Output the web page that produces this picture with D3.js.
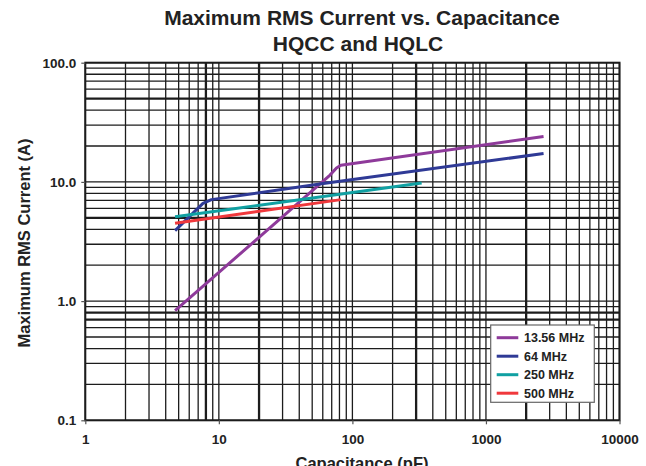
<!DOCTYPE html>
<html><head><meta charset="utf-8">
<script src="https://cdn.jsdelivr.net/npm/d3@7"></script>
<style>
html,body{margin:0;padding:0;background:#fff;}
svg{display:block;font-family:"Liberation Sans",Arial,Helvetica,sans-serif;}
</style></head>
<body><svg id="c" width="646" height="466"></svg>
<script>
// ---- data ----
const titleLines = ["Maximum RMS Current vs. Capacitance", "HQCC and HQLC"];
const xTitle = "Capacitance (pF)";
const yTitle = "Maximum RMS Current (A)";
const xTickValues = [1, 10, 100, 1000, 10000];
const xTickLabels = ["1", "10", "100", "1000", "10000"];
const yTickValues = [0.1, 1, 10, 100];
const yTickLabels = ["0.1", "1.0", "10.0", "100.0"];
const seriesNames = ["13.56 MHz", "64 MHz", "250 MHz", "500 MHz"];
const seriesColors = ["#8e3a9a", "#2f3a96", "#10a0a2", "#f0383c"];
const s1356 = [[4.7, 0.83], [68, 11.4], [76, 13.1], [82, 13.8], [2700, 24]];
const s64 = [[4.7, 3.9], [7.6, 6.6], [8.8, 7.1], [57, 9.6], [2700, 17.3]];
const s250 = [[4.7, 5.1], [330, 9.8]];
const s500 = [[4.7, 4.5], [82, 7.1]];
const seriesData = [s1356, s64, s250, s500];
const heavyX = [8, 20, 300, 2000];
const heavyY = [0.7, 0.8, 5, 50];

// ---- chart ----
const svg = d3.select("#c");
const x = d3.scaleLog().domain([1, 10000]).range([85.3, 619.5]);
const y = d3.scaleLog().domain([0.1, 100]).range([420.3, 62.7]);

function logGrid(lo, hi) {
  const out = [];
  for (let d = lo; d < hi * 0.999; d *= 10)
    for (let k = 1; k <= 9; k++) out.push(+(d * k).toPrecision(6));
  out.push(hi);
  return out;
}
const gx = logGrid(1, 10000), gy = logGrid(0.1, 100);
const isHeavy = (arr, v) => arr.some(h => Math.abs(h - v) / h < 1e-6);

const grid = svg.append("g");
grid.selectAll("line.v").data(gx).join("line")
  .attr("x1", d => x(d)).attr("x2", d => x(d))
  .attr("y1", y(100)).attr("y2", y(0.1))
  .attr("stroke", "#1c1c1c").attr("stroke-width", d => isHeavy(heavyX, d) ? 2.3 : 1.3);
grid.selectAll("line.h").data(gy).join("line")
  .attr("y1", d => y(d)).attr("y2", d => y(d))
  .attr("x1", x(1)).attr("x2", x(10000))
  .attr("stroke", "#1c1c1c").attr("stroke-width", d => isHeavy(heavyY, d) ? 2.3 : 1.3);
svg.append("rect").attr("x", x(1)).attr("y", y(100))
  .attr("width", x(10000) - x(1)).attr("height", y(0.1) - y(100))
  .attr("fill", "none").attr("stroke", "#1c1c1c").attr("stroke-width", 2);

// axes
const xa = svg.append("g").attr("transform", `translate(0,${y(0.1)})`)
  .call(d3.axisBottom(x).tickValues(xTickValues).tickFormat((d, i) => xTickLabels[i]).tickSize(4).tickPadding(10.5));
const ya = svg.append("g").attr("transform", `translate(${x(1)},0)`)
  .call(d3.axisLeft(y).tickValues(yTickValues).tickFormat((d, i) => yTickLabels[i]).tickSize(4).tickPadding(5));
[xa, ya].forEach(a => {
  a.select(".domain").remove();
  a.selectAll(".tick line").attr("stroke", "#555").attr("stroke-width", 1.2);
  a.selectAll("text").attr("font-size", 13.5).attr("font-weight", "bold").attr("fill", "#222")
    .attr("font-family", "'Liberation Sans',Arial,sans-serif");
});

// series
const line = d3.line().x(d => x(d[0])).y(d => y(d[1]));
svg.append("g").selectAll("path").data(seriesData).join("path")
  .attr("d", line).attr("fill", "none")
  .attr("stroke", (d, i) => seriesColors[i]).attr("stroke-width", 3)
  .attr("stroke-linejoin", "round").attr("stroke-linecap", "butt");

// title
const titleX = [362, 358];
svg.append("g").selectAll("text").data(titleLines).join("text")
  .attr("x", (d, i) => titleX[i]).attr("y", (d, i) => 24.5 + i * 26.5)
  .attr("text-anchor", "middle").attr("font-size", 21).attr("font-weight", "bold").attr("fill", "#222")
  .text(d => d);

// axis titles
svg.append("text").attr("x", 362).attr("y", 469).attr("text-anchor", "middle")
  .attr("font-size", 16.5).attr("font-weight", "bold").attr("fill", "#222").text(xTitle);
svg.append("text").attr("transform", `translate(29.5,243) rotate(-90)`)
  .attr("text-anchor", "middle").attr("font-size", 16.5).attr("font-weight", "bold").attr("fill", "#222").text(yTitle);

// legend
const lg = svg.append("g").attr("transform", "translate(490.7,325)");
lg.append("rect").attr("width", 103.6).attr("height", 77.3)
  .attr("fill", "#fff").attr("stroke", "#666").attr("stroke-width", 1.2);
const items = lg.selectAll("g").data(seriesNames).join("g")
  .attr("transform", (d, i) => `translate(0,${12.7 + i * 18.5})`);
items.append("line").attr("x1", 6).attr("x2", 27.6)
  .attr("stroke", (d, i) => seriesColors[i]).attr("stroke-width", 3);
items.append("text").attr("x", 33.3).attr("y", 4.3).attr("font-size", 12.5).attr("font-weight", "bold")
  .attr("fill", "#222").text(d => d);
</script></body></html>
